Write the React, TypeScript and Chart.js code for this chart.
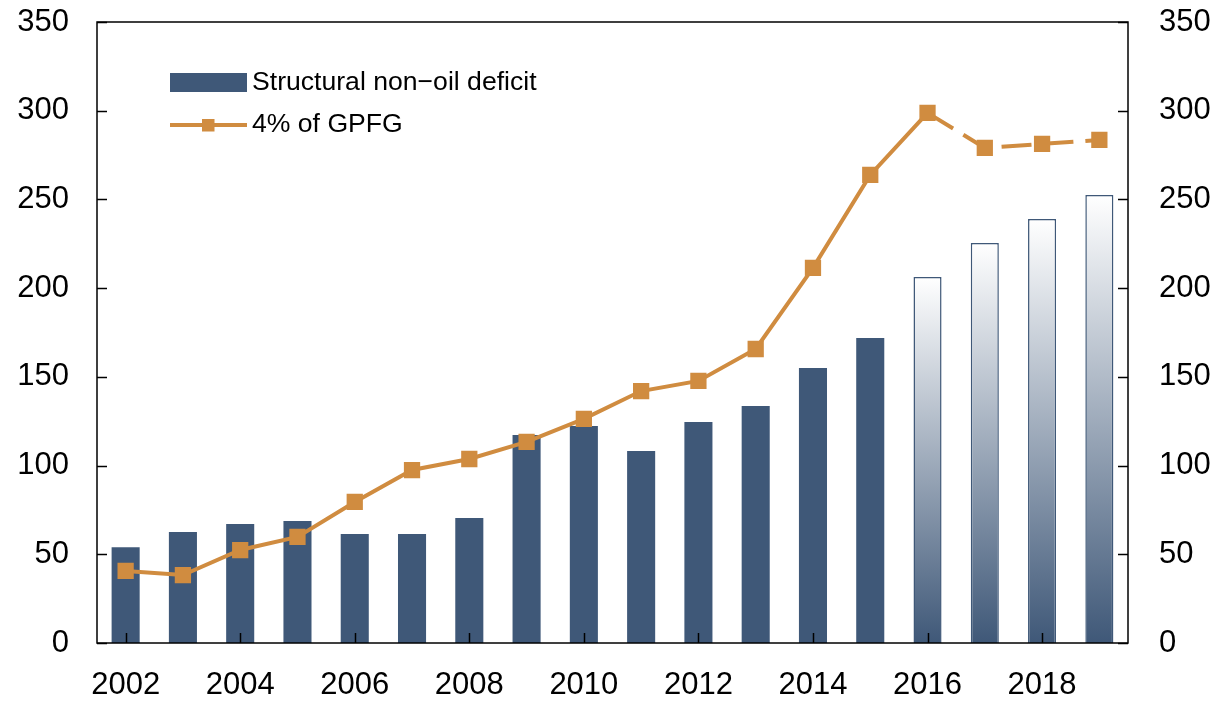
import React, { useEffect, useRef } from 'react';
import { Chart, registerables } from 'chart.js';

Chart.register(...registerables);

const years = ['2002', '2003', '2004', '2005', '2006', '2007', '2008', '2009', '2010', '2011', '2012', '2013', '2014', '2015', '2016', '2017', '2018', '2019'];
const deficit = [54, 62.5, 67, 68.8, 61.4, 61.4, 70.5, 117.2, 122.3, 108.2, 124.6, 133.6, 155, 171.9, 206.3, 225.5, 239, 252.5];
const gpfg = [40.6, 38.3, 52.4, 59.8, 79.5, 97.5, 103.7, 113.3, 126.3, 142, 147.7, 165.7, 211.4, 263.8, 298.8, 279, 281.3, 283.5];
const projectedFrom = 14; // 2016 onward is projected
const yMin = 0;
const yMax = 350;
const yStep = 50;
const seriesLabels = ['Structural non\u2212oil deficit', '4% of GPFG'];

const BAR = '#3F5878';
const LINE = '#D08C40';
const FONT = '"Liberation Sans", Arial, Helvetica, sans-serif';

const framePlugin = {
  id: 'frame',
  afterDraw(chart: any) {
    const { ctx, chartArea: a } = chart;
    const y = chart.scales.y;
    const x = chart.scales.x;
    ctx.save();
    ctx.strokeStyle = '#000';
    ctx.lineWidth = 1.5;
    ctx.strokeRect(a.left, a.top, a.right - a.left, a.bottom - a.top);
    ctx.lineWidth = 1.5;
    ctx.beginPath();
    y.ticks.forEach((t: any) => {
      const py = Math.round(y.getPixelForValue(t.value)) + 0.5;
      ctx.moveTo(a.left, py);
      ctx.lineTo(a.left + 10, py);
      ctx.moveTo(a.right, py);
      ctx.lineTo(a.right - 10, py);
    });
    years.forEach((_, i) => {
      if (i % 2 !== 0) return;
      const px = Math.round(x.getPixelForValue(i)) + 0.5;
      ctx.moveTo(px, a.bottom);
      ctx.lineTo(px, a.bottom - 10);
    });
    ctx.stroke();

    // legend
    ctx.fillStyle = BAR;
    ctx.fillRect(170, 73, 77, 19);
    ctx.strokeStyle = LINE;
    ctx.lineWidth = 4;
    ctx.beginPath();
    ctx.moveTo(170, 125);
    ctx.lineTo(247, 125);
    ctx.stroke();
    ctx.fillStyle = LINE;
    ctx.fillRect(202, 119, 12.5, 12.5);
    ctx.fillStyle = '#000';
    ctx.font = `26.6px ${FONT}`;
    ctx.textBaseline = 'middle';
    ctx.textAlign = 'left';
    ctx.fillText(seriesLabels[0], 252, 83);
    ctx.fillText(seriesLabels[1], 252, 125);
    ctx.restore();
  },
};

export default function App() {
  const ref = useRef<HTMLCanvasElement>(null);
  useEffect(() => {
    if (!ref.current) return;
    const chart = new Chart(ref.current, {
      type: 'bar',
      data: {
        labels: years,
        datasets: [
          {
            type: 'line',
            label: seriesLabels[1],
            data: gpfg,
            order: 0,
            borderColor: LINE,
            backgroundColor: LINE,
            borderWidth: 4,
            pointStyle: 'rect',
            pointRadius: 11.5,
            pointBorderWidth: 0,
            pointBackgroundColor: LINE,
            tension: 0,
            segment: {
              borderDash: (c: any) => (c.p0DataIndex >= projectedFrom ? [30, 12] : undefined),
            },
          } as any,
          {
            type: 'bar',
            label: seriesLabels[0],
            data: deficit,
            order: 1,
            barPercentage: 0.49,
            categoryPercentage: 1,
            borderColor: BAR,
            borderWidth: (c: any) => (c.dataIndex >= projectedFrom ? 1.5 : 0),
            backgroundColor: (c: any) => {
              if (c.type !== 'data' || c.dataIndex < projectedFrom) return BAR;
              const ch = c.chart;
              const ys = ch.scales && ch.scales.y;
              if (!ys || !ch.chartArea) return BAR;
              const top = ys.getPixelForValue(deficit[c.dataIndex]);
              const bottom = ys.getPixelForValue(0);
              if (!isFinite(top) || !isFinite(bottom)) return BAR;
              const g = ch.ctx.createLinearGradient(0, top, 0, bottom);
              g.addColorStop(0, '#FFFFFF');
              g.addColorStop(1, BAR);
              return g;
            },
          } as any,
        ],
      },
      options: {
        animation: false,
        responsive: true,
        maintainAspectRatio: false,
        layout: { padding: { top: 22, left: 0, right: 0, bottom: 0 } },
        plugins: { legend: { display: false }, tooltip: { enabled: false } },
        scales: {
          x: {
            type: 'category',
            offset: true,
            grid: { display: false, drawTicks: false },
            border: { display: false },
            ticks: {
              autoSkip: false,
              maxRotation: 0,
              minRotation: 0,
              padding: 24,
              color: '#000',
              font: { size: 31, family: FONT },
              callback: (_v: any, i: number) => (i % 2 === 0 ? years[i] : ''),
            },
            afterFit: (s: any) => {
              s.height = 60;
              s.paddingLeft = 0;
              s.paddingRight = 0;
            },
          },
          y: {
            position: 'left',
            min: yMin,
            max: yMax,
            grid: { display: false, drawTicks: false },
            border: { display: false },
            ticks: { stepSize: yStep, padding: 28, color: '#000', font: { size: 31, family: FONT } },
            afterFit: (s: any) => {
              s.width = 97;
              s.paddingTop = 0;
              s.paddingBottom = 0;
            },
          },
          y2: {
            position: 'right',
            min: yMin,
            max: yMax,
            grid: { display: false, drawTicks: false },
            border: { display: false },
            ticks: { stepSize: yStep, padding: 31, color: '#000', font: { size: 31, family: FONT } },
            afterFit: (s: any) => {
              s.width = 91;
              s.paddingTop = 0;
              s.paddingBottom = 0;
            },
          },
        },
      },
      plugins: [framePlugin],
    });
    return () => chart.destroy();
  }, []);
  return (
    <div style={{ position: 'fixed', left: 0, top: 0, width: '100vw', height: '100vh', background: '#fff' }}>
      <canvas ref={ref} style={{ display: 'block' }} />
    </div>
  );
}
